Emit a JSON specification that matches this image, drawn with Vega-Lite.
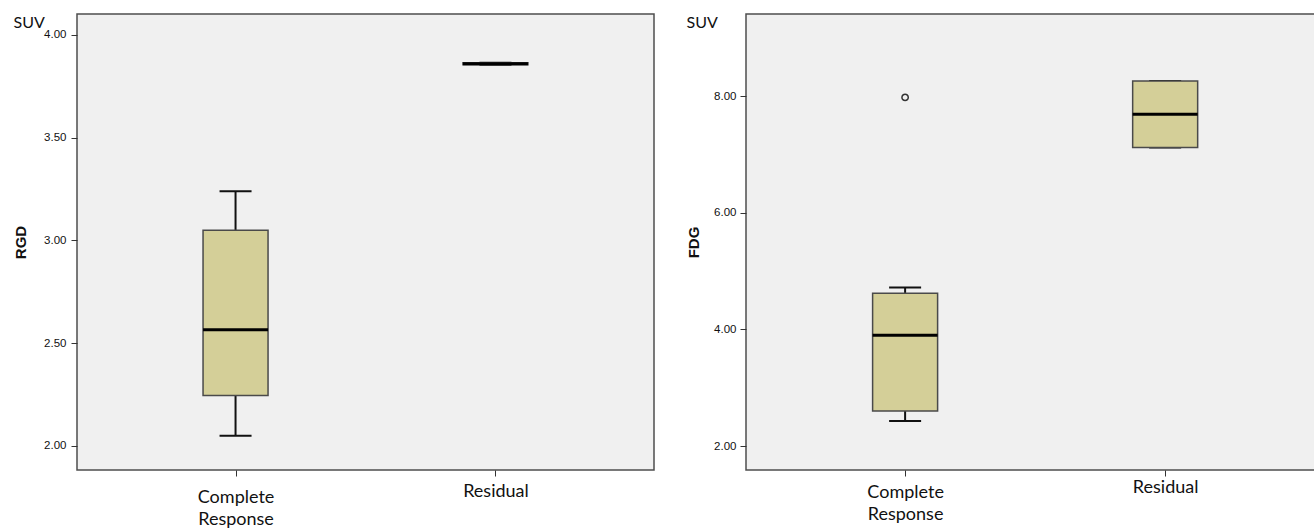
{
  "$schema": "https://vega.github.io/schema/vega-lite/v6.json",
  "background": "white",
  "padding": {"left": 12, "top": 13, "right": 0, "bottom": 0},
  "spacing": 30,
  "datasets": {
    "rgd": [
      {"group": "Complete Response", "lo": 2.05, "q1": 2.245, "med": 2.565, "q3": 3.05, "hi": 3.24},
      {"group": "Residual", "lo": 3.855, "q1": 3.855, "med": 3.86, "q3": 3.865, "hi": 3.865}
    ],
    "fdg": [
      {"group": "Complete Response", "lo": 2.43, "q1": 2.6, "med": 3.9, "q3": 4.62, "hi": 4.72},
      {"group": "Residual", "lo": 7.12, "q1": 7.12, "med": 7.69, "q3": 8.26, "hi": 8.26}
    ],
    "fdg_out": [
      {"group": "Complete Response", "v": 7.98}
    ]
  },
  "hconcat": [
    {
      "width": 577,
      "height": 456,
      "title": {"text": "SUV", "anchor": "start", "frame": "bounds", "font": "Lato", "fontSize": 16, "fontWeight": "normal", "color": "#111", "offset": -17},
      "data": {"name": "rgd"},
      "encoding": {
        "x": {"field": "group", "type": "nominal", "sort": ["Complete Response", "Residual"],
          "scale": {"type": "point", "padding": 0.61, "align": 0.5},
          "axis": {"title": null, "domain": false, "tickSize": 6, "tickColor": "#333", "labelAngle": 0,
            "labelFont": "Lato", "labelFontSize": 18, "labelColor": "#111",
            "labelPadding": {"condition": {"test": "datum.value === 'Residual'", "value": 6}, "value": 12},
            "labelExpr": "split(datum.label, ' ')", "labelLineHeight": 22}}
      },
      "layer": [
        {"mark": {"type": "rule", "color": "#111", "strokeWidth": 2},
          "encoding": {"y": {"field": "lo", "type": "quantitative",
            "scale": {"domain": [1.883, 4.102], "nice": false, "zero": false},
            "axis": {"title": "RGD", "values": [2, 2.5, 3, 3.5, 4], "format": ".2f", "grid": false, "domain": false,
              "tickSize": 6, "tickColor": "#333", "labelPadding": 5, "labelFont": "Liberation Sans", "labelFontSize": 11.5, "labelColor": "#111",
              "titleFont": "Liberation Sans", "titleFontSize": 15, "titleFontWeight": "bold", "titleColor": "#111", "titlePadding": 15}},
            "y2": {"field": "hi"}}},
        {"mark": {"type": "tick", "color": "#111", "opacity": 1, "size": 32, "thickness": 2},
          "encoding": {"y": {"field": "lo", "type": "quantitative"}}},
        {"mark": {"type": "tick", "color": "#111", "opacity": 1, "size": 32, "thickness": 2},
          "encoding": {"y": {"field": "hi", "type": "quantitative"}}},
        {"mark": {"type": "bar", "size": 65, "fill": "#d4cf98", "stroke": "#4a4a4a", "strokeWidth": 1.5},
          "encoding": {"y": {"field": "q1", "type": "quantitative"}, "y2": {"field": "q3"}}},
        {"mark": {"type": "tick", "color": "#000", "opacity": 1, "size": 65, "thickness": 3},
          "encoding": {"y": {"field": "med", "type": "quantitative"}}}
      ]
    },
    {
      "width": 569,
      "height": 456,
      "title": {"text": "SUV", "anchor": "start", "frame": "bounds", "font": "Lato", "fontSize": 16, "fontWeight": "normal", "color": "#111", "offset": -17},
      "encoding": {
        "x": {"field": "group", "type": "nominal", "sort": ["Complete Response", "Residual"],
          "scale": {"type": "point", "padding": 0.594, "align": 0.515},
          "axis": {"title": null, "domain": false, "tickSize": 6, "tickColor": "#333", "labelAngle": 0,
            "labelFont": "Lato", "labelFontSize": 18, "labelColor": "#111",
            "labelPadding": {"condition": {"test": "datum.value === 'Residual'", "value": 2}, "value": 7},
            "labelExpr": "split(datum.label, ' ')", "labelLineHeight": 22}}
      },
      "layer": [
        {"data": {"name": "fdg"},
          "mark": {"type": "rule", "color": "#111", "strokeWidth": 2},
          "encoding": {"y": {"field": "lo", "type": "quantitative",
            "scale": {"domain": [1.59, 9.41], "nice": false, "zero": false},
            "axis": {"title": "FDG", "values": [2, 4, 6, 8], "format": ".2f", "grid": false, "domain": false,
              "tickSize": 6, "tickColor": "#333", "labelPadding": 4, "labelFont": "Liberation Sans", "labelFontSize": 11.5, "labelColor": "#111",
              "titleFont": "Liberation Sans", "titleFontSize": 15, "titleFontWeight": "bold", "titleColor": "#111", "titlePadding": 12}},
            "y2": {"field": "hi"}}},
        {"data": {"name": "fdg"},
          "mark": {"type": "tick", "color": "#111", "opacity": 1, "size": 32, "thickness": 2},
          "encoding": {"y": {"field": "lo", "type": "quantitative"}}},
        {"data": {"name": "fdg"},
          "mark": {"type": "tick", "color": "#111", "opacity": 1, "size": 32, "thickness": 2},
          "encoding": {"y": {"field": "hi", "type": "quantitative"}}},
        {"data": {"name": "fdg"},
          "mark": {"type": "bar", "size": 65, "fill": "#d4cf98", "stroke": "#4a4a4a", "strokeWidth": 1.5},
          "encoding": {"y": {"field": "q1", "type": "quantitative"}, "y2": {"field": "q3"}}},
        {"data": {"name": "fdg"},
          "mark": {"type": "tick", "color": "#000", "opacity": 1, "size": 65, "thickness": 3},
          "encoding": {"y": {"field": "med", "type": "quantitative"}}},
        {"data": {"name": "fdg_out"},
          "mark": {"type": "point", "shape": "circle", "filled": false, "opacity": 1, "size": 40, "stroke": "#333", "strokeWidth": 1.5},
          "encoding": {"y": {"field": "v", "type": "quantitative"}}}
      ]
    }
  ],
  "config": {
    "view": {"fill": "#f0f0f0", "stroke": "#4d4d4d", "strokeWidth": 1.5}
  }
}
